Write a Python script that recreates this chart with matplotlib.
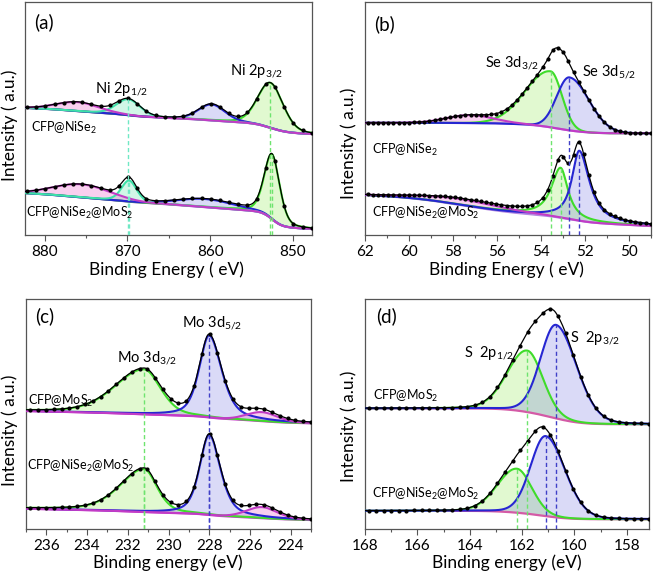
import numpy as np
import matplotlib
matplotlib.use("Agg")
import matplotlib.pyplot as plt
from matplotlib.ticker import MultipleLocator

plt.rcParams['font.family'] = ['Lato', 'DejaVu Sans']
plt.rcParams['mathtext.fontset'] = 'custom'
plt.rcParams['mathtext.rm'] = 'Lato'
plt.rcParams['mathtext.it'] = 'Lato:italic'
plt.rcParams['mathtext.default'] = 'regular'

W, H = 661, 572

# ---- fitted peak parameters ----
# each spectrum: centre (eV), height, fwhm on the high-BE side, fwhm on the low-BE side,
# lorentz fraction, background step under the peak; plus background level/slope

# (a) Ni 2p : components = 2p3/2, sat, 2p1/2, sat
a_xlim = (882.4, 847.7)
a1_center = [852.7, 859.8, 869.9, 876.0]
a1_height = [45, 16, 16, 9]
a1_fw_high = [3.6, 3.8, 3.4, 6.0]
a1_fw_low = [3.6, 3.8, 3.4, 6.0]
a1_eta = [0.2, 0.2, 0.2, 0.1]
a1_step = [9, 1, 2, 2]
a1_bg = (101, 0.35)

a2_center = [852.5, 860.5, 869.8, 875.5]
a2_height = [65, 8, 21, 13]
a2_fw_high = [2.2, 8.0, 2.2, 8.0]
a2_fw_low = [2.2, 8.0, 2.2, 8.0]
a2_eta = [0.3, 0.0, 0.3, 0.0]
a2_step = [16, 2, 1, 3]
a2_bg = (6, 0.4)

# (b) Se 3d : 3d3/2, 3d5/2, SeOx
b_xlim = (62, 49)
b1_center = [53.55, 52.7, 57.2]
b1_height = [56, 53, 8]
b1_fw_high = [2.7, 1.35, 2.5]
b1_fw_low = [1.2, 2.1, 2.5]
b1_eta = [0.0, 0.0, 0.0]
b1_step = [5.5, 4.5, 0.5]
b1_bg = (101.7, 0.0)

b2_center = [53.1, 52.25, 57.5]
b2_height = [50, 70, 6]
b2_fw_high = [1.0, 0.8, 4.5]
b2_fw_low = [0.8, 1.1, 4.5]
b2_eta = [0.9, 0.9, 0.0]
b2_step = [3, 3, 12]
b2_bg = (9, 1.0)

# (c) Mo 3d : 3d3/2, 3d5/2, S 2s
c_xlim = (237, 223)
c1_center = [231.2, 228.0, 225.4]
c1_height = [45, 82, 9]
c1_fw_high = [3.4, 1.15, 1.8]
c1_fw_low = [1.9, 1.45, 1.8]
c1_eta = [0.3, 0.5, 0.2]
c1_step = [1, 3, 2]
c1_bg = (105.7, 0.45)

c2_center = [231.2, 228.0, 225.4]
c2_height = [43, 80, 11]
c2_fw_high = [2.8, 1.1, 1.8]
c2_fw_low = [1.5, 1.3, 1.8]
c2_eta = [0.4, 0.5, 0.2]
c2_step = [1, 2.5, 1.5]
c2_bg = (9, 0.45)

# (d) S 2p : 2p1/2, 2p3/2
d_xlim = (168, 157.15)
d1_center = [161.8, 160.7]
d1_height = [61.5, 93.5]
d1_fw_high = [1.8, 1.4]
d1_fw_low = [1.4, 1.85]
d1_eta = [0.1, 0.1]
d1_step = [6, 10]
d1_bg = (104.7, 0.0)

d2_center = [162.2, 161.1]
d2_height = [44, 80]
d2_fw_high = [1.75, 1.35]
d2_fw_low = [1.35, 1.75]
d2_eta = [0.1, 0.1]
d2_step = [3, 5.5]
d2_bg = (9.7, 0.0)

# colours: (edge, fill, alpha)
GREEN = ('#3fdc2a', '#7ae62a', 0.22)
BLUE = ('#2626d2', '#4a4ad8', 0.2)
MINT = ('#3ee2a8', '#30dc96', 0.22)
PINK = ('#c23cc6', '#ee60cc', 0.3)


def profile(x, c, h, fh, fl, eta):
    f = np.where(x >= c, fh, fl)
    u = (x - c) / f
    g = np.exp(-4 * np.log(2) * u ** 2)
    l = 1 / (1 + 4 * u ** 2)
    return h * (eta * l + (1 - eta) * g)


def make_spec(center, height, fw_high, fw_low, eta, step, bg):
    return dict(center=center, height=height, fw_high=fw_high, fw_low=fw_low,
                eta=eta, step=step, bg=bg)


def spectrum(x, s):
    comps = [profile(x, *p) for p in zip(s['center'], s['height'], s['fw_high'],
                                        s['fw_low'], s['eta'])]
    low, slope = s['bg']
    bg = low + slope * (x - x.min())
    for p, st in zip(comps, s['step']):
        cdf = np.cumsum(p)
        bg = bg + st * cdf / cdf[-1]
    return bg, comps


def draw_spectrum(ax, xlim, s, colors, bgcolor, dot_step):
    x = np.linspace(min(xlim), max(xlim), 1500)
    bg, comps = spectrum(x, s)
    for comp, (edge, face, al) in zip(comps, colors):
        ax.fill_between(x, bg, bg + comp, color=face, alpha=al, lw=0, zorder=1)
    ax.plot(x, bg, color=bgcolor, lw=1.6, zorder=2)
    for comp, (edge, face, al) in zip(comps, colors):
        ax.plot(x, bg + comp, color=edge, lw=1.5, zorder=3)
    env = bg + np.sum(comps, axis=0)
    ax.plot(x, env, color='k', lw=0.9, zorder=4)
    # measured points sit on the envelope
    xd = x[::max(1, int(round(dot_step / (x[1] - x[0]))))]
    envd = np.interp(xd, x, env)
    ax.plot(xd, envd, 'o', color='k', ms=2.0, zorder=5)
    # peak tops, used for the dashed marker lines
    tops = [np.interp(c, x, bg + comp) for c, comp in zip(s['center'], comps)]
    return tops


def dashed(ax, s, tops, idx, color):
    ax.plot([s['center'][idx]] * 2, [0, tops[idx]], color=color, lw=1.0,
            ls=(0, (3, 2)), zorder=6)


def setup(ax, xlim, hpx, major, minor):
    ax.set_xlim(xlim)
    ax.set_ylim(0, hpx)
    ax.set_yticks([])
    ax.xaxis.set_major_locator(MultipleLocator(major))
    ax.xaxis.set_minor_locator(MultipleLocator(minor))
    ax.tick_params(axis='x', which='major', direction='out', length=4, width=0.8,
                   color='#555555', labelsize=11, pad=3)
    ax.tick_params(axis='x', which='minor', direction='out', length=2.5, width=0.8,
                   color='#555555')
    for sp in ax.spines.values():
        sp.set_color('#555555')
        sp.set_linewidth(0.9)


def add_ax(l, t, r, b):
    return fig.add_axes([l / W, 1 - b / H, (r - l) / W, (b - t) / H])


def ftext(x, y, s, **kw):
    fig.text(x / W, 1 - y / H, s, **kw)


LAB = 12.5
PEAK = 10.5
SAMPLE = 9
LETTER = 13.5

fig = plt.figure(figsize=(W / 100, H / 100), dpi=100)

# ---------- (a) ----------
ax = add_ax(25, 2, 311.7, 235)
setup(ax, a_xlim, 233, 10, 5)
sa1 = make_spec(a1_center, a1_height, a1_fw_high, a1_fw_low, a1_eta, a1_step, a1_bg)
sa2 = make_spec(a2_center, a2_height, a2_fw_high, a2_fw_low, a2_eta, a2_step, a2_bg)
cols = [GREEN, BLUE, MINT, PINK]
t1 = draw_spectrum(ax, a_xlim, sa1, cols, '#9b34d2', 1.1)
t2 = draw_spectrum(ax, a_xlim, sa2, cols, '#9b34d2', 1.1)
dashed(ax, sa1, t1, 0, '#6ee46e')
dashed(ax, sa2, t2, 0, '#6ee46e')
dashed(ax, sa1, t1, 2, '#70e8c4')
dashed(ax, sa2, t2, 2, '#70e8c4')
ftext(34, 22, '(a)', fontsize=LETTER, va='center')
ftext(122, 89, 'Ni 2p$_{1/2}$', fontsize=PEAK, ha='center', va='center')
ftext(257, 71, 'Ni 2p$_{3/2}$', fontsize=PEAK, ha='center', va='center')
ftext(31, 128, 'CFP@NiSe$_2$', fontsize=SAMPLE, va='center')
ftext(26, 213, 'CFP@NiSe$_2$@MoS$_2$', fontsize=SAMPLE, va='center')
ftext(166, 270, 'Binding Energy ( eV)', fontsize=LAB, ha='center', va='center')
ftext(10, 125, 'Intensity ( a.u.)', fontsize=LAB, ha='center', va='center', rotation=90)

# ---------- (b) ----------
ax = add_ax(365, 2, 650.7, 235)
setup(ax, b_xlim, 233, 2, 1)
sb1 = make_spec(b1_center, b1_height, b1_fw_high, b1_fw_low, b1_eta, b1_step, b1_bg)
sb2 = make_spec(b2_center, b2_height, b2_fw_high, b2_fw_low, b2_eta, b2_step, b2_bg)
cols = [GREEN, BLUE, PINK]
t1 = draw_spectrum(ax, b_xlim, sb1, cols, '#b488e2', 0.23)
t2 = draw_spectrum(ax, b_xlim, sb2, cols, '#b488e2', 0.23)
dashed(ax, sb1, t1, 0, '#6ee46e')
dashed(ax, sb2, t2, 0, '#6ee46e')
dashed(ax, sb1, t1, 1, '#4040c8')
dashed(ax, sb2, t2, 1, '#4040c8')
ftext(374, 24, '(b)', fontsize=LETTER, va='center')
ftext(512, 63, 'Se 3d$_{3/2}$', fontsize=PEAK, ha='center', va='center')
ftext(609, 72, 'Se 3d$_{5/2}$', fontsize=PEAK, ha='center', va='center')
ftext(372, 150, 'CFP@NiSe$_2$', fontsize=SAMPLE, va='center')
ftext(372, 213, 'CFP@NiSe$_2$@MoS$_2$', fontsize=SAMPLE, va='center')
ftext(506, 270, 'Binding Energy ( eV)', fontsize=LAB, ha='center', va='center')
ftext(349, 143, 'Intensity ( a.u.)', fontsize=LAB, ha='center', va='center', rotation=90)

# ---------- (c) ----------
ax = add_ax(26, 299, 311, 529)
setup(ax, c_xlim, 230, 2, 1)
sc1 = make_spec(c1_center, c1_height, c1_fw_high, c1_fw_low, c1_eta, c1_step, c1_bg)
sc2 = make_spec(c2_center, c2_height, c2_fw_high, c2_fw_low, c2_eta, c2_step, c2_bg)
t1 = draw_spectrum(ax, c_xlim, sc1, cols, '#c83ccc', 0.38)
t2 = draw_spectrum(ax, c_xlim, sc2, cols, '#c83ccc', 0.38)
dashed(ax, sc1, t1, 0, '#6ee46e')
dashed(ax, sc2, t2, 0, '#6ee46e')
dashed(ax, sc1, t1, 1, '#4040c8')
dashed(ax, sc2, t2, 1, '#4040c8')
ftext(35, 316, '(c)', fontsize=LETTER, va='center')
ftext(212, 323, 'Mo 3d$_{5/2}$', fontsize=PEAK, ha='center', va='center')
ftext(147, 358, 'Mo 3d$_{3/2}$', fontsize=PEAK, ha='center', va='center')
ftext(28, 401, 'CFP@MoS$_2$', fontsize=SAMPLE, va='center')
ftext(27, 466, 'CFP@NiSe$_2$@MoS$_2$', fontsize=SAMPLE, va='center')
ftext(168, 563, 'Binding energy (eV)', fontsize=LAB, ha='center', va='center')
ftext(10, 430, 'Intensity ( a.u.)', fontsize=LAB, ha='center', va='center', rotation=90)

# ---------- (d) ----------
ax = add_ax(365, 299, 649, 529)
setup(ax, d_xlim, 230, 2, 1)
sd1 = make_spec(d1_center, d1_height, d1_fw_high, d1_fw_low, d1_eta, d1_step, d1_bg)
sd2 = make_spec(d2_center, d2_height, d2_fw_high, d2_fw_low, d2_eta, d2_step, d2_bg)
cols = [GREEN, BLUE]
t1 = draw_spectrum(ax, d_xlim, sd1, cols, '#d45aa6', 0.29)
t2 = draw_spectrum(ax, d_xlim, sd2, cols, '#d45aa6', 0.29)
dashed(ax, sd1, t1, 0, '#6ee46e')
dashed(ax, sd2, t2, 0, '#6ee46e')
dashed(ax, sd1, t1, 1, '#4040c8')
dashed(ax, sd2, t2, 1, '#4040c8')
ftext(376, 316, '(d)', fontsize=LETTER, va='center')
ftext(489, 353, 'S  2p$_{1/2}$', fontsize=PEAK, ha='center', va='center')
ftext(595, 338, 'S  2p$_{3/2}$', fontsize=PEAK, ha='center', va='center')
ftext(373, 396, 'CFP@MoS$_2$', fontsize=SAMPLE, va='center')
ftext(372, 494, 'CFP@NiSe$_2$@MoS$_2$', fontsize=SAMPLE, va='center')
ftext(507, 563, 'Binding energy (eV)', fontsize=LAB, ha='center', va='center')
ftext(349, 426, 'Intensity ( a.u.)', fontsize=LAB, ha='center', va='center', rotation=90)

fig.savefig('out.png', dpi=100)
